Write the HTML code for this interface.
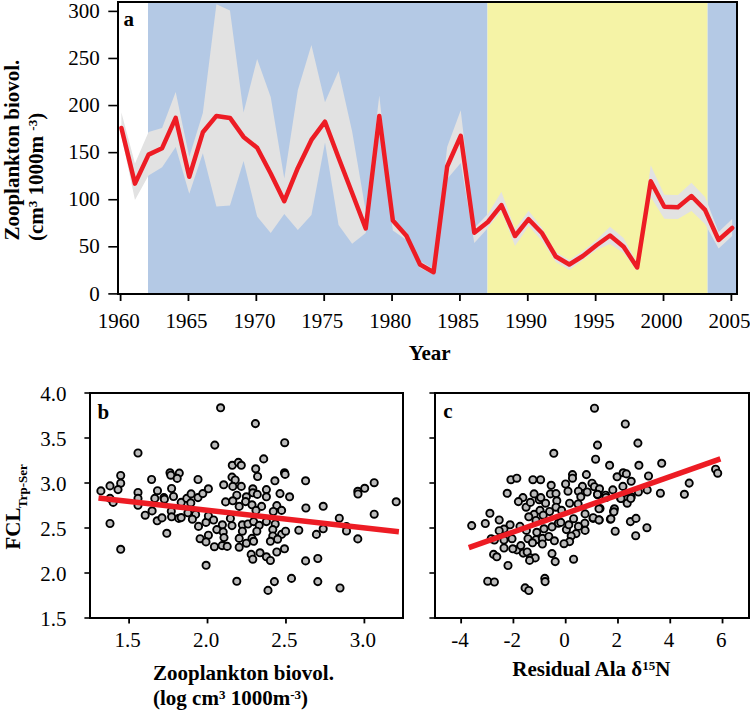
<!DOCTYPE html><html><head><meta charset="utf-8"><style>html,body{margin:0;padding:0;background:#fff;width:750px;height:712px;overflow:hidden}svg{display:block}text{font-family:"Liberation Serif",serif}.t{font-size:21px}.b{font-weight:bold;font-size:21px}</style></head><body>
<svg width="750" height="712" viewBox="0 0 750 712">
<rect x="118" y="2" width="30" height="292" fill="#fff"/>
<rect x="148" y="2" width="339.5" height="292" fill="#b4c9e5"/>
<rect x="487.5" y="2" width="220.10000000000002" height="292" fill="#f5f3a6"/>
<rect x="707.6" y="2" width="29.399999999999977" height="292" fill="#b4c9e5"/>
<polygon points="121.4,112.4 134.97,163.4 148.55,132 162.12,128 175.69,92.1 189.27,157 202.84,112.9 216.41,4.2 229.98,10.4 243.56,112.6 257.13,58.9 270.7,97 284.28,178.6 297.85,90.1 311.42,45 325,102.3 338.57,71 352.14,131.5 365.71,211 379.29,95.4 392.86,218.4 406.43,232 420.01,261 433.58,269 447.15,147 460.73,110.2 474.3,228 487.87,214 501.44,191.7 515.02,229 528.59,210.8 542.16,228 555.74,252 569.31,260 582.88,251 596.46,240 610.03,226.7 623.6,238 637.17,263 650.75,165.3 664.32,194.7 677.89,195 691.47,182.7 705.04,197 718.61,232 732.18,219 732.18,236 718.61,248.6 705.04,224 691.47,211 677.89,219 664.32,218.7 650.75,197 637.17,271 623.6,253 610.03,244 596.46,250 582.88,260 569.31,270 555.74,262 542.16,241 528.59,226 515.02,246 501.44,211 487.87,228 474.3,243 460.73,163 447.15,179 433.58,274.5 420.01,268 406.43,240 392.86,230.5 379.29,124 365.71,233 352.14,243.7 338.57,225 325,142.6 311.42,215 297.85,230 284.28,214 270.7,233 257.13,216.5 243.56,160.9 229.98,205.6 216.41,206.4 202.84,153.3 189.27,193.8 175.69,147 162.12,167.2 148.55,175.5 134.97,200 121.4,136" fill="#e2e2e2"/>
<polyline points="121.4,128 134.97,183.6 148.55,154.6 162.12,148.2 175.69,117.9 189.27,176.8 202.84,132.3 216.41,115.9 229.98,117.9 243.56,136.9 257.13,147.7 270.7,173.5 284.28,201.2 297.85,167.9 311.42,139.9 325,121.7 338.57,157.7 352.14,193 365.71,228.5 379.29,116 392.86,220.5 406.43,235.7 420.01,264.5 433.58,272.2 447.15,166.5 460.73,135.8 474.3,232.7 487.87,222 501.44,205.1 515.02,236 528.59,219.2 542.16,233.3 555.74,256.5 569.31,264.5 582.88,256 596.46,245.3 610.03,235.5 623.6,246.7 637.17,267.5 650.75,181.3 664.32,206.7 677.89,207.2 691.47,196 705.04,209.9 718.61,240 732.18,228" fill="none" stroke="#ed1c24" stroke-width="4.5" stroke-linejoin="round" stroke-linecap="round"/>
<rect x="118" y="2" width="619" height="292" fill="none" stroke="#000" stroke-width="2"/>
<line x1="108.3" y1="293.9" x2="118" y2="293.9" stroke="#000" stroke-width="1.6"/>
<text class="t" x="99.7" y="300.5" text-anchor="end">0</text>
<line x1="108.3" y1="246.81" x2="118" y2="246.81" stroke="#000" stroke-width="1.6"/>
<text class="t" x="99.7" y="253.41" text-anchor="end">50</text>
<line x1="108.3" y1="199.73" x2="118" y2="199.73" stroke="#000" stroke-width="1.6"/>
<text class="t" x="99.7" y="206.33" text-anchor="end">100</text>
<line x1="108.3" y1="152.64" x2="118" y2="152.64" stroke="#000" stroke-width="1.6"/>
<text class="t" x="99.7" y="159.24" text-anchor="end">150</text>
<line x1="108.3" y1="105.56" x2="118" y2="105.56" stroke="#000" stroke-width="1.6"/>
<text class="t" x="99.7" y="112.16" text-anchor="end">200</text>
<line x1="108.3" y1="58.47" x2="118" y2="58.47" stroke="#000" stroke-width="1.6"/>
<text class="t" x="99.7" y="65.07" text-anchor="end">250</text>
<line x1="108.3" y1="11.39" x2="118" y2="11.39" stroke="#000" stroke-width="1.6"/>
<text class="t" x="99.7" y="17.99" text-anchor="end">300</text>
<line x1="120.6" y1="294" x2="120.6" y2="301" stroke="#000" stroke-width="1.8"/>
<text class="t" x="118.7" y="328.1" text-anchor="middle">1960</text>
<line x1="188.47" y1="294" x2="188.47" y2="301" stroke="#000" stroke-width="1.8"/>
<text class="t" x="186.56" y="328.1" text-anchor="middle">1965</text>
<line x1="256.33" y1="294" x2="256.33" y2="301" stroke="#000" stroke-width="1.8"/>
<text class="t" x="254.43" y="328.1" text-anchor="middle">1970</text>
<line x1="324.19" y1="294" x2="324.19" y2="301" stroke="#000" stroke-width="1.8"/>
<text class="t" x="322.3" y="328.1" text-anchor="middle">1975</text>
<line x1="392.06" y1="294" x2="392.06" y2="301" stroke="#000" stroke-width="1.8"/>
<text class="t" x="390.16" y="328.1" text-anchor="middle">1980</text>
<line x1="459.92" y1="294" x2="459.92" y2="301" stroke="#000" stroke-width="1.8"/>
<text class="t" x="458.02" y="328.1" text-anchor="middle">1985</text>
<line x1="527.79" y1="294" x2="527.79" y2="301" stroke="#000" stroke-width="1.8"/>
<text class="t" x="525.89" y="328.1" text-anchor="middle">1990</text>
<line x1="595.65" y1="294" x2="595.65" y2="301" stroke="#000" stroke-width="1.8"/>
<text class="t" x="593.75" y="328.1" text-anchor="middle">1995</text>
<line x1="663.52" y1="294" x2="663.52" y2="301" stroke="#000" stroke-width="1.8"/>
<text class="t" x="661.62" y="328.1" text-anchor="middle">2000</text>
<line x1="731.38" y1="294" x2="731.38" y2="301" stroke="#000" stroke-width="1.8"/>
<text class="t" x="729.49" y="328.1" text-anchor="middle">2005</text>
<text class="b" x="429.7" y="360.2" text-anchor="middle">Year</text>
<text class="b" x="123.6" y="26">a</text>
<text class="b" transform="translate(18.5,240.6) rotate(-90)">Zooplankton biovol.</text>
<text class="b" transform="translate(43.2,241) rotate(-90)">(cm<tspan font-size="13" dy="-6">3</tspan><tspan dy="6"> 1000m </tspan><tspan font-size="13" dy="-6">-3</tspan><tspan dy="6">)</tspan></text>
<circle cx="220.6" cy="407.8" r="3.6" fill="#bcbcbc" stroke="#000" stroke-width="1.9"/>
<circle cx="214.8" cy="445.1" r="3.6" fill="#bcbcbc" stroke="#000" stroke-width="1.9"/>
<circle cx="138" cy="453" r="3.6" fill="#bcbcbc" stroke="#000" stroke-width="1.9"/>
<circle cx="255.4" cy="423.6" r="3.6" fill="#bcbcbc" stroke="#000" stroke-width="1.9"/>
<circle cx="284.7" cy="442.7" r="3.6" fill="#bcbcbc" stroke="#000" stroke-width="1.9"/>
<circle cx="120.7" cy="475.5" r="3.6" fill="#bcbcbc" stroke="#000" stroke-width="1.9"/>
<circle cx="120.7" cy="483.2" r="3.6" fill="#bcbcbc" stroke="#000" stroke-width="1.9"/>
<circle cx="110" cy="485.9" r="3.6" fill="#bcbcbc" stroke="#000" stroke-width="1.9"/>
<circle cx="118" cy="489.6" r="3.6" fill="#bcbcbc" stroke="#000" stroke-width="1.9"/>
<circle cx="100.9" cy="490.9" r="3.6" fill="#bcbcbc" stroke="#000" stroke-width="1.9"/>
<circle cx="110" cy="498.4" r="3.6" fill="#bcbcbc" stroke="#000" stroke-width="1.9"/>
<circle cx="113.2" cy="502.4" r="3.6" fill="#bcbcbc" stroke="#000" stroke-width="1.9"/>
<circle cx="110" cy="523.5" r="3.6" fill="#bcbcbc" stroke="#000" stroke-width="1.9"/>
<circle cx="120.7" cy="549.3" r="3.6" fill="#bcbcbc" stroke="#000" stroke-width="1.9"/>
<circle cx="151.6" cy="479.5" r="3.6" fill="#bcbcbc" stroke="#000" stroke-width="1.9"/>
<circle cx="138" cy="492.5" r="3.6" fill="#bcbcbc" stroke="#000" stroke-width="1.9"/>
<circle cx="138" cy="498.4" r="3.6" fill="#bcbcbc" stroke="#000" stroke-width="1.9"/>
<circle cx="138" cy="505.3" r="3.6" fill="#bcbcbc" stroke="#000" stroke-width="1.9"/>
<circle cx="145.2" cy="515.2" r="3.6" fill="#bcbcbc" stroke="#000" stroke-width="1.9"/>
<circle cx="152.1" cy="510.9" r="3.6" fill="#bcbcbc" stroke="#000" stroke-width="1.9"/>
<circle cx="157.2" cy="520.8" r="3.6" fill="#bcbcbc" stroke="#000" stroke-width="1.9"/>
<circle cx="162" cy="517.9" r="3.6" fill="#bcbcbc" stroke="#000" stroke-width="1.9"/>
<circle cx="154.8" cy="498.4" r="3.6" fill="#bcbcbc" stroke="#000" stroke-width="1.9"/>
<circle cx="157.5" cy="490.7" r="3.6" fill="#bcbcbc" stroke="#000" stroke-width="1.9"/>
<circle cx="163.9" cy="497.6" r="3.6" fill="#bcbcbc" stroke="#000" stroke-width="1.9"/>
<circle cx="164.4" cy="499.2" r="3.6" fill="#bcbcbc" stroke="#000" stroke-width="1.9"/>
<circle cx="170" cy="472.8" r="3.6" fill="#bcbcbc" stroke="#000" stroke-width="1.9"/>
<circle cx="170.8" cy="475.2" r="3.6" fill="#bcbcbc" stroke="#000" stroke-width="1.9"/>
<circle cx="179.3" cy="473.1" r="3.6" fill="#bcbcbc" stroke="#000" stroke-width="1.9"/>
<circle cx="177.2" cy="478.4" r="3.6" fill="#bcbcbc" stroke="#000" stroke-width="1.9"/>
<circle cx="171.6" cy="488.5" r="3.6" fill="#bcbcbc" stroke="#000" stroke-width="1.9"/>
<circle cx="173.5" cy="496.5" r="3.6" fill="#bcbcbc" stroke="#000" stroke-width="1.9"/>
<circle cx="171.3" cy="511.2" r="3.6" fill="#bcbcbc" stroke="#000" stroke-width="1.9"/>
<circle cx="171.6" cy="516.8" r="3.6" fill="#bcbcbc" stroke="#000" stroke-width="1.9"/>
<circle cx="178.8" cy="518.4" r="3.6" fill="#bcbcbc" stroke="#000" stroke-width="1.9"/>
<circle cx="181.2" cy="517.6" r="3.6" fill="#bcbcbc" stroke="#000" stroke-width="1.9"/>
<circle cx="166.8" cy="533.3" r="3.6" fill="#bcbcbc" stroke="#000" stroke-width="1.9"/>
<circle cx="181.2" cy="502.4" r="3.6" fill="#bcbcbc" stroke="#000" stroke-width="1.9"/>
<circle cx="186.8" cy="498.4" r="3.6" fill="#bcbcbc" stroke="#000" stroke-width="1.9"/>
<circle cx="191.1" cy="493.9" r="3.6" fill="#bcbcbc" stroke="#000" stroke-width="1.9"/>
<circle cx="190.8" cy="502.9" r="3.6" fill="#bcbcbc" stroke="#000" stroke-width="1.9"/>
<circle cx="187.9" cy="512.8" r="3.6" fill="#bcbcbc" stroke="#000" stroke-width="1.9"/>
<circle cx="195.6" cy="514.4" r="3.6" fill="#bcbcbc" stroke="#000" stroke-width="1.9"/>
<circle cx="192.4" cy="519.2" r="3.6" fill="#bcbcbc" stroke="#000" stroke-width="1.9"/>
<circle cx="198" cy="479.5" r="3.6" fill="#bcbcbc" stroke="#000" stroke-width="1.9"/>
<circle cx="198" cy="497.6" r="3.6" fill="#bcbcbc" stroke="#000" stroke-width="1.9"/>
<circle cx="202.8" cy="493.6" r="3.6" fill="#bcbcbc" stroke="#000" stroke-width="1.9"/>
<circle cx="208.4" cy="488.8" r="3.6" fill="#bcbcbc" stroke="#000" stroke-width="1.9"/>
<circle cx="198.5" cy="526.4" r="3.6" fill="#bcbcbc" stroke="#000" stroke-width="1.9"/>
<circle cx="206" cy="522.4" r="3.6" fill="#bcbcbc" stroke="#000" stroke-width="1.9"/>
<circle cx="208.4" cy="516" r="3.6" fill="#bcbcbc" stroke="#000" stroke-width="1.9"/>
<circle cx="208.4" cy="535.2" r="3.6" fill="#bcbcbc" stroke="#000" stroke-width="1.9"/>
<circle cx="200.1" cy="538.7" r="3.6" fill="#bcbcbc" stroke="#000" stroke-width="1.9"/>
<circle cx="206" cy="541.9" r="3.6" fill="#bcbcbc" stroke="#000" stroke-width="1.9"/>
<circle cx="263.7" cy="458.9" r="3.6" fill="#bcbcbc" stroke="#000" stroke-width="1.9"/>
<circle cx="232.3" cy="465.3" r="3.6" fill="#bcbcbc" stroke="#000" stroke-width="1.9"/>
<circle cx="238.4" cy="462.4" r="3.6" fill="#bcbcbc" stroke="#000" stroke-width="1.9"/>
<circle cx="241.3" cy="465.3" r="3.6" fill="#bcbcbc" stroke="#000" stroke-width="1.9"/>
<circle cx="255.7" cy="468.8" r="3.6" fill="#bcbcbc" stroke="#000" stroke-width="1.9"/>
<circle cx="257.6" cy="476.5" r="3.6" fill="#bcbcbc" stroke="#000" stroke-width="1.9"/>
<circle cx="284.5" cy="472.8" r="3.6" fill="#bcbcbc" stroke="#000" stroke-width="1.9"/>
<circle cx="285.1" cy="474.4" r="3.6" fill="#bcbcbc" stroke="#000" stroke-width="1.9"/>
<circle cx="305.6" cy="480.8" r="3.6" fill="#bcbcbc" stroke="#000" stroke-width="1.9"/>
<circle cx="274.9" cy="480.8" r="3.6" fill="#bcbcbc" stroke="#000" stroke-width="1.9"/>
<circle cx="232" cy="477.1" r="3.6" fill="#bcbcbc" stroke="#000" stroke-width="1.9"/>
<circle cx="235.2" cy="480" r="3.6" fill="#bcbcbc" stroke="#000" stroke-width="1.9"/>
<circle cx="223.7" cy="484.8" r="3.6" fill="#bcbcbc" stroke="#000" stroke-width="1.9"/>
<circle cx="232.8" cy="486.4" r="3.6" fill="#bcbcbc" stroke="#000" stroke-width="1.9"/>
<circle cx="241.3" cy="486.4" r="3.6" fill="#bcbcbc" stroke="#000" stroke-width="1.9"/>
<circle cx="252.8" cy="488.8" r="3.6" fill="#bcbcbc" stroke="#000" stroke-width="1.9"/>
<circle cx="252.8" cy="492.8" r="3.6" fill="#bcbcbc" stroke="#000" stroke-width="1.9"/>
<circle cx="257.3" cy="494.4" r="3.6" fill="#bcbcbc" stroke="#000" stroke-width="1.9"/>
<circle cx="266.4" cy="489.6" r="3.6" fill="#bcbcbc" stroke="#000" stroke-width="1.9"/>
<circle cx="266.4" cy="496.8" r="3.6" fill="#bcbcbc" stroke="#000" stroke-width="1.9"/>
<circle cx="280" cy="493.6" r="3.6" fill="#bcbcbc" stroke="#000" stroke-width="1.9"/>
<circle cx="289.6" cy="496.8" r="3.6" fill="#bcbcbc" stroke="#000" stroke-width="1.9"/>
<circle cx="236.8" cy="495.2" r="3.6" fill="#bcbcbc" stroke="#000" stroke-width="1.9"/>
<circle cx="246.4" cy="496.8" r="3.6" fill="#bcbcbc" stroke="#000" stroke-width="1.9"/>
<circle cx="225.6" cy="501.9" r="3.6" fill="#bcbcbc" stroke="#000" stroke-width="1.9"/>
<circle cx="232.8" cy="500.8" r="3.6" fill="#bcbcbc" stroke="#000" stroke-width="1.9"/>
<circle cx="239.2" cy="506.4" r="3.6" fill="#bcbcbc" stroke="#000" stroke-width="1.9"/>
<circle cx="245.6" cy="501.6" r="3.6" fill="#bcbcbc" stroke="#000" stroke-width="1.9"/>
<circle cx="252" cy="504.8" r="3.6" fill="#bcbcbc" stroke="#000" stroke-width="1.9"/>
<circle cx="261.6" cy="506.4" r="3.6" fill="#bcbcbc" stroke="#000" stroke-width="1.9"/>
<circle cx="276.8" cy="505.6" r="3.6" fill="#bcbcbc" stroke="#000" stroke-width="1.9"/>
<circle cx="281.6" cy="510.4" r="3.6" fill="#bcbcbc" stroke="#000" stroke-width="1.9"/>
<circle cx="273.3" cy="511.5" r="3.6" fill="#bcbcbc" stroke="#000" stroke-width="1.9"/>
<circle cx="256" cy="510.4" r="3.6" fill="#bcbcbc" stroke="#000" stroke-width="1.9"/>
<circle cx="305.9" cy="508" r="3.6" fill="#bcbcbc" stroke="#000" stroke-width="1.9"/>
<circle cx="323.2" cy="506.3" r="3.6" fill="#bcbcbc" stroke="#000" stroke-width="1.9"/>
<circle cx="213.6" cy="520" r="3.6" fill="#bcbcbc" stroke="#000" stroke-width="1.9"/>
<circle cx="222.4" cy="524.8" r="3.6" fill="#bcbcbc" stroke="#000" stroke-width="1.9"/>
<circle cx="216.8" cy="529.6" r="3.6" fill="#bcbcbc" stroke="#000" stroke-width="1.9"/>
<circle cx="223.2" cy="532" r="3.6" fill="#bcbcbc" stroke="#000" stroke-width="1.9"/>
<circle cx="224" cy="537.6" r="3.6" fill="#bcbcbc" stroke="#000" stroke-width="1.9"/>
<circle cx="214.4" cy="546.7" r="3.6" fill="#bcbcbc" stroke="#000" stroke-width="1.9"/>
<circle cx="222.1" cy="545.6" r="3.6" fill="#bcbcbc" stroke="#000" stroke-width="1.9"/>
<circle cx="227.2" cy="546.4" r="3.6" fill="#bcbcbc" stroke="#000" stroke-width="1.9"/>
<circle cx="232" cy="525.6" r="3.6" fill="#bcbcbc" stroke="#000" stroke-width="1.9"/>
<circle cx="230.4" cy="518.4" r="3.6" fill="#bcbcbc" stroke="#000" stroke-width="1.9"/>
<circle cx="242.4" cy="524.8" r="3.6" fill="#bcbcbc" stroke="#000" stroke-width="1.9"/>
<circle cx="242.4" cy="531.2" r="3.6" fill="#bcbcbc" stroke="#000" stroke-width="1.9"/>
<circle cx="248" cy="524" r="3.6" fill="#bcbcbc" stroke="#000" stroke-width="1.9"/>
<circle cx="253.6" cy="521.6" r="3.6" fill="#bcbcbc" stroke="#000" stroke-width="1.9"/>
<circle cx="259.2" cy="525.3" r="3.6" fill="#bcbcbc" stroke="#000" stroke-width="1.9"/>
<circle cx="256.8" cy="531.2" r="3.6" fill="#bcbcbc" stroke="#000" stroke-width="1.9"/>
<circle cx="266.4" cy="521.6" r="3.6" fill="#bcbcbc" stroke="#000" stroke-width="1.9"/>
<circle cx="275.2" cy="524" r="3.6" fill="#bcbcbc" stroke="#000" stroke-width="1.9"/>
<circle cx="272.8" cy="529.6" r="3.6" fill="#bcbcbc" stroke="#000" stroke-width="1.9"/>
<circle cx="272.8" cy="536" r="3.6" fill="#bcbcbc" stroke="#000" stroke-width="1.9"/>
<circle cx="281.6" cy="534.4" r="3.6" fill="#bcbcbc" stroke="#000" stroke-width="1.9"/>
<circle cx="285.6" cy="531.2" r="3.6" fill="#bcbcbc" stroke="#000" stroke-width="1.9"/>
<circle cx="277.6" cy="539.2" r="3.6" fill="#bcbcbc" stroke="#000" stroke-width="1.9"/>
<circle cx="270.4" cy="541.3" r="3.6" fill="#bcbcbc" stroke="#000" stroke-width="1.9"/>
<circle cx="276.8" cy="552" r="3.6" fill="#bcbcbc" stroke="#000" stroke-width="1.9"/>
<circle cx="284.5" cy="548.8" r="3.6" fill="#bcbcbc" stroke="#000" stroke-width="1.9"/>
<circle cx="239.2" cy="538.4" r="3.6" fill="#bcbcbc" stroke="#000" stroke-width="1.9"/>
<circle cx="239.2" cy="547.2" r="3.6" fill="#bcbcbc" stroke="#000" stroke-width="1.9"/>
<circle cx="246.4" cy="543.2" r="3.6" fill="#bcbcbc" stroke="#000" stroke-width="1.9"/>
<circle cx="252" cy="538.4" r="3.6" fill="#bcbcbc" stroke="#000" stroke-width="1.9"/>
<circle cx="253.6" cy="541.3" r="3.6" fill="#bcbcbc" stroke="#000" stroke-width="1.9"/>
<circle cx="251.2" cy="554.4" r="3.6" fill="#bcbcbc" stroke="#000" stroke-width="1.9"/>
<circle cx="260" cy="552.8" r="3.6" fill="#bcbcbc" stroke="#000" stroke-width="1.9"/>
<circle cx="252.8" cy="559.2" r="3.6" fill="#bcbcbc" stroke="#000" stroke-width="1.9"/>
<circle cx="266.4" cy="556.8" r="3.6" fill="#bcbcbc" stroke="#000" stroke-width="1.9"/>
<circle cx="270.4" cy="560.5" r="3.6" fill="#bcbcbc" stroke="#000" stroke-width="1.9"/>
<circle cx="298.8" cy="530.2" r="3.6" fill="#bcbcbc" stroke="#000" stroke-width="1.9"/>
<circle cx="316.4" cy="534.4" r="3.6" fill="#bcbcbc" stroke="#000" stroke-width="1.9"/>
<circle cx="305.6" cy="560.9" r="3.6" fill="#bcbcbc" stroke="#000" stroke-width="1.9"/>
<circle cx="317.8" cy="558.5" r="3.6" fill="#bcbcbc" stroke="#000" stroke-width="1.9"/>
<circle cx="206.1" cy="565.3" r="3.6" fill="#bcbcbc" stroke="#000" stroke-width="1.9"/>
<circle cx="236.8" cy="581.3" r="3.6" fill="#bcbcbc" stroke="#000" stroke-width="1.9"/>
<circle cx="274.4" cy="581.6" r="3.6" fill="#bcbcbc" stroke="#000" stroke-width="1.9"/>
<circle cx="268" cy="590.4" r="3.6" fill="#bcbcbc" stroke="#000" stroke-width="1.9"/>
<circle cx="291.5" cy="578.4" r="3.6" fill="#bcbcbc" stroke="#000" stroke-width="1.9"/>
<circle cx="317.8" cy="581.6" r="3.6" fill="#bcbcbc" stroke="#000" stroke-width="1.9"/>
<circle cx="323.2" cy="528.8" r="3.6" fill="#bcbcbc" stroke="#000" stroke-width="1.9"/>
<circle cx="339.3" cy="518.2" r="3.6" fill="#bcbcbc" stroke="#000" stroke-width="1.9"/>
<circle cx="346.5" cy="526.6" r="3.6" fill="#bcbcbc" stroke="#000" stroke-width="1.9"/>
<circle cx="346.5" cy="531" r="3.6" fill="#bcbcbc" stroke="#000" stroke-width="1.9"/>
<circle cx="357.8" cy="538.9" r="3.6" fill="#bcbcbc" stroke="#000" stroke-width="1.9"/>
<circle cx="357.8" cy="491.3" r="3.6" fill="#bcbcbc" stroke="#000" stroke-width="1.9"/>
<circle cx="358" cy="494" r="3.6" fill="#bcbcbc" stroke="#000" stroke-width="1.9"/>
<circle cx="364.7" cy="488.3" r="3.6" fill="#bcbcbc" stroke="#000" stroke-width="1.9"/>
<circle cx="374.2" cy="482.7" r="3.6" fill="#bcbcbc" stroke="#000" stroke-width="1.9"/>
<circle cx="374.2" cy="514.2" r="3.6" fill="#bcbcbc" stroke="#000" stroke-width="1.9"/>
<circle cx="396.2" cy="501.8" r="3.6" fill="#bcbcbc" stroke="#000" stroke-width="1.9"/>
<circle cx="340" cy="588" r="3.6" fill="#bcbcbc" stroke="#000" stroke-width="1.9"/>
<line x1="98.5" y1="498.1" x2="398.9" y2="531.7" stroke="#ed1c24" stroke-width="5.5"/>
<rect x="90" y="393" width="313" height="225" fill="none" stroke="#000" stroke-width="2"/>
<line x1="84.4" y1="618" x2="90" y2="618" stroke="#000" stroke-width="1.6"/>
<text class="t" x="66.5" y="625.6" text-anchor="end">1.5</text>
<line x1="84.4" y1="573" x2="90" y2="573" stroke="#000" stroke-width="1.6"/>
<text class="t" x="66.5" y="580.6" text-anchor="end">2.0</text>
<line x1="84.4" y1="528" x2="90" y2="528" stroke="#000" stroke-width="1.6"/>
<text class="t" x="66.5" y="535.6" text-anchor="end">2.5</text>
<line x1="84.4" y1="483" x2="90" y2="483" stroke="#000" stroke-width="1.6"/>
<text class="t" x="66.5" y="490.6" text-anchor="end">3.0</text>
<line x1="84.4" y1="438" x2="90" y2="438" stroke="#000" stroke-width="1.6"/>
<text class="t" x="66.5" y="445.6" text-anchor="end">3.5</text>
<line x1="84.4" y1="393" x2="90" y2="393" stroke="#000" stroke-width="1.6"/>
<text class="t" x="66.5" y="400.6" text-anchor="end">4.0</text>
<circle cx="594.5" cy="408.2" r="3.6" fill="#bcbcbc" stroke="#000" stroke-width="1.9"/>
<circle cx="553.8" cy="453.3" r="3.6" fill="#bcbcbc" stroke="#000" stroke-width="1.9"/>
<circle cx="597.5" cy="445.1" r="3.6" fill="#bcbcbc" stroke="#000" stroke-width="1.9"/>
<circle cx="595.6" cy="459.2" r="3.6" fill="#bcbcbc" stroke="#000" stroke-width="1.9"/>
<circle cx="510.9" cy="479.7" r="3.6" fill="#bcbcbc" stroke="#000" stroke-width="1.9"/>
<circle cx="516.8" cy="478.2" r="3.6" fill="#bcbcbc" stroke="#000" stroke-width="1.9"/>
<circle cx="532.9" cy="479.7" r="3.6" fill="#bcbcbc" stroke="#000" stroke-width="1.9"/>
<circle cx="540.6" cy="479.7" r="3.6" fill="#bcbcbc" stroke="#000" stroke-width="1.9"/>
<circle cx="572.5" cy="474.6" r="3.6" fill="#bcbcbc" stroke="#000" stroke-width="1.9"/>
<circle cx="572.5" cy="478.2" r="3.6" fill="#bcbcbc" stroke="#000" stroke-width="1.9"/>
<circle cx="586.4" cy="474.6" r="3.6" fill="#bcbcbc" stroke="#000" stroke-width="1.9"/>
<circle cx="625.3" cy="424" r="3.6" fill="#bcbcbc" stroke="#000" stroke-width="1.9"/>
<circle cx="637.9" cy="443.1" r="3.6" fill="#bcbcbc" stroke="#000" stroke-width="1.9"/>
<circle cx="551.2" cy="485.3" r="3.6" fill="#bcbcbc" stroke="#000" stroke-width="1.9"/>
<circle cx="507.2" cy="493.3" r="3.6" fill="#bcbcbc" stroke="#000" stroke-width="1.9"/>
<circle cx="522.9" cy="497.6" r="3.6" fill="#bcbcbc" stroke="#000" stroke-width="1.9"/>
<circle cx="518.4" cy="501.6" r="3.6" fill="#bcbcbc" stroke="#000" stroke-width="1.9"/>
<circle cx="526.1" cy="507.2" r="3.6" fill="#bcbcbc" stroke="#000" stroke-width="1.9"/>
<circle cx="530.4" cy="502.4" r="3.6" fill="#bcbcbc" stroke="#000" stroke-width="1.9"/>
<circle cx="534.1" cy="493.9" r="3.6" fill="#bcbcbc" stroke="#000" stroke-width="1.9"/>
<circle cx="539.2" cy="499.7" r="3.6" fill="#bcbcbc" stroke="#000" stroke-width="1.9"/>
<circle cx="545.6" cy="503.2" r="3.6" fill="#bcbcbc" stroke="#000" stroke-width="1.9"/>
<circle cx="550.4" cy="493.9" r="3.6" fill="#bcbcbc" stroke="#000" stroke-width="1.9"/>
<circle cx="556" cy="493.6" r="3.6" fill="#bcbcbc" stroke="#000" stroke-width="1.9"/>
<circle cx="556.8" cy="500.8" r="3.6" fill="#bcbcbc" stroke="#000" stroke-width="1.9"/>
<circle cx="556" cy="507.2" r="3.6" fill="#bcbcbc" stroke="#000" stroke-width="1.9"/>
<circle cx="549.6" cy="511.5" r="3.6" fill="#bcbcbc" stroke="#000" stroke-width="1.9"/>
<circle cx="534.1" cy="514.4" r="3.6" fill="#bcbcbc" stroke="#000" stroke-width="1.9"/>
<circle cx="528.8" cy="516.8" r="3.6" fill="#bcbcbc" stroke="#000" stroke-width="1.9"/>
<circle cx="489.9" cy="513.3" r="3.6" fill="#bcbcbc" stroke="#000" stroke-width="1.9"/>
<circle cx="499.2" cy="520" r="3.6" fill="#bcbcbc" stroke="#000" stroke-width="1.9"/>
<circle cx="485.3" cy="523.5" r="3.6" fill="#bcbcbc" stroke="#000" stroke-width="1.9"/>
<circle cx="471.7" cy="525.6" r="3.6" fill="#bcbcbc" stroke="#000" stroke-width="1.9"/>
<circle cx="510.1" cy="524.8" r="3.6" fill="#bcbcbc" stroke="#000" stroke-width="1.9"/>
<circle cx="504" cy="529.1" r="3.6" fill="#bcbcbc" stroke="#000" stroke-width="1.9"/>
<circle cx="499.2" cy="530.7" r="3.6" fill="#bcbcbc" stroke="#000" stroke-width="1.9"/>
<circle cx="520" cy="526.4" r="3.6" fill="#bcbcbc" stroke="#000" stroke-width="1.9"/>
<circle cx="526.4" cy="530.4" r="3.6" fill="#bcbcbc" stroke="#000" stroke-width="1.9"/>
<circle cx="536" cy="520.5" r="3.6" fill="#bcbcbc" stroke="#000" stroke-width="1.9"/>
<circle cx="544" cy="528.8" r="3.6" fill="#bcbcbc" stroke="#000" stroke-width="1.9"/>
<circle cx="552" cy="526.9" r="3.6" fill="#bcbcbc" stroke="#000" stroke-width="1.9"/>
<circle cx="558.4" cy="523.2" r="3.6" fill="#bcbcbc" stroke="#000" stroke-width="1.9"/>
<circle cx="536.8" cy="532.3" r="3.6" fill="#bcbcbc" stroke="#000" stroke-width="1.9"/>
<circle cx="512" cy="538.7" r="3.6" fill="#bcbcbc" stroke="#000" stroke-width="1.9"/>
<circle cx="504" cy="540" r="3.6" fill="#bcbcbc" stroke="#000" stroke-width="1.9"/>
<circle cx="491.2" cy="538.7" r="3.6" fill="#bcbcbc" stroke="#000" stroke-width="1.9"/>
<circle cx="494.4" cy="540" r="3.6" fill="#bcbcbc" stroke="#000" stroke-width="1.9"/>
<circle cx="528" cy="538.7" r="3.6" fill="#bcbcbc" stroke="#000" stroke-width="1.9"/>
<circle cx="536" cy="539.7" r="3.6" fill="#bcbcbc" stroke="#000" stroke-width="1.9"/>
<circle cx="542.4" cy="538.4" r="3.6" fill="#bcbcbc" stroke="#000" stroke-width="1.9"/>
<circle cx="548.8" cy="536.5" r="3.6" fill="#bcbcbc" stroke="#000" stroke-width="1.9"/>
<circle cx="554.4" cy="540.8" r="3.6" fill="#bcbcbc" stroke="#000" stroke-width="1.9"/>
<circle cx="542.4" cy="544" r="3.6" fill="#bcbcbc" stroke="#000" stroke-width="1.9"/>
<circle cx="504" cy="548" r="3.6" fill="#bcbcbc" stroke="#000" stroke-width="1.9"/>
<circle cx="516.8" cy="549.9" r="3.6" fill="#bcbcbc" stroke="#000" stroke-width="1.9"/>
<circle cx="512.8" cy="548.8" r="3.6" fill="#bcbcbc" stroke="#000" stroke-width="1.9"/>
<circle cx="520.8" cy="545.6" r="3.6" fill="#bcbcbc" stroke="#000" stroke-width="1.9"/>
<circle cx="523.2" cy="553.1" r="3.6" fill="#bcbcbc" stroke="#000" stroke-width="1.9"/>
<circle cx="527.2" cy="552" r="3.6" fill="#bcbcbc" stroke="#000" stroke-width="1.9"/>
<circle cx="493.6" cy="554.4" r="3.6" fill="#bcbcbc" stroke="#000" stroke-width="1.9"/>
<circle cx="496.8" cy="556.8" r="3.6" fill="#bcbcbc" stroke="#000" stroke-width="1.9"/>
<circle cx="530.4" cy="557.9" r="3.6" fill="#bcbcbc" stroke="#000" stroke-width="1.9"/>
<circle cx="535.2" cy="557.9" r="3.6" fill="#bcbcbc" stroke="#000" stroke-width="1.9"/>
<circle cx="552" cy="553.6" r="3.6" fill="#bcbcbc" stroke="#000" stroke-width="1.9"/>
<circle cx="609.6" cy="465.3" r="3.6" fill="#bcbcbc" stroke="#000" stroke-width="1.9"/>
<circle cx="638.9" cy="465.3" r="3.6" fill="#bcbcbc" stroke="#000" stroke-width="1.9"/>
<circle cx="661.7" cy="463.3" r="3.6" fill="#bcbcbc" stroke="#000" stroke-width="1.9"/>
<circle cx="565.6" cy="484" r="3.6" fill="#bcbcbc" stroke="#000" stroke-width="1.9"/>
<circle cx="568" cy="491.2" r="3.6" fill="#bcbcbc" stroke="#000" stroke-width="1.9"/>
<circle cx="582.4" cy="486.4" r="3.6" fill="#bcbcbc" stroke="#000" stroke-width="1.9"/>
<circle cx="578.4" cy="491.2" r="3.6" fill="#bcbcbc" stroke="#000" stroke-width="1.9"/>
<circle cx="587.2" cy="492" r="3.6" fill="#bcbcbc" stroke="#000" stroke-width="1.9"/>
<circle cx="592" cy="483.2" r="3.6" fill="#bcbcbc" stroke="#000" stroke-width="1.9"/>
<circle cx="594.4" cy="486.7" r="3.6" fill="#bcbcbc" stroke="#000" stroke-width="1.9"/>
<circle cx="599.5" cy="488.8" r="3.6" fill="#bcbcbc" stroke="#000" stroke-width="1.9"/>
<circle cx="597.6" cy="494.7" r="3.6" fill="#bcbcbc" stroke="#000" stroke-width="1.9"/>
<circle cx="580.8" cy="496.8" r="3.6" fill="#bcbcbc" stroke="#000" stroke-width="1.9"/>
<circle cx="612.8" cy="489.9" r="3.6" fill="#bcbcbc" stroke="#000" stroke-width="1.9"/>
<circle cx="617.1" cy="476.8" r="3.6" fill="#bcbcbc" stroke="#000" stroke-width="1.9"/>
<circle cx="623.2" cy="472.8" r="3.6" fill="#bcbcbc" stroke="#000" stroke-width="1.9"/>
<circle cx="626.4" cy="473.9" r="3.6" fill="#bcbcbc" stroke="#000" stroke-width="1.9"/>
<circle cx="631.2" cy="481.3" r="3.6" fill="#bcbcbc" stroke="#000" stroke-width="1.9"/>
<circle cx="622.9" cy="486.4" r="3.6" fill="#bcbcbc" stroke="#000" stroke-width="1.9"/>
<circle cx="638.4" cy="492" r="3.6" fill="#bcbcbc" stroke="#000" stroke-width="1.9"/>
<circle cx="647.2" cy="489.9" r="3.6" fill="#bcbcbc" stroke="#000" stroke-width="1.9"/>
<circle cx="648.5" cy="476" r="3.6" fill="#bcbcbc" stroke="#000" stroke-width="1.9"/>
<circle cx="660.4" cy="493.2" r="3.6" fill="#bcbcbc" stroke="#000" stroke-width="1.9"/>
<circle cx="620.8" cy="498.4" r="3.6" fill="#bcbcbc" stroke="#000" stroke-width="1.9"/>
<circle cx="627.7" cy="498.4" r="3.6" fill="#bcbcbc" stroke="#000" stroke-width="1.9"/>
<circle cx="627.2" cy="503.2" r="3.6" fill="#bcbcbc" stroke="#000" stroke-width="1.9"/>
<circle cx="631.2" cy="496.8" r="3.6" fill="#bcbcbc" stroke="#000" stroke-width="1.9"/>
<circle cx="605.6" cy="495.2" r="3.6" fill="#bcbcbc" stroke="#000" stroke-width="1.9"/>
<circle cx="569.6" cy="503.2" r="3.6" fill="#bcbcbc" stroke="#000" stroke-width="1.9"/>
<circle cx="578.1" cy="504" r="3.6" fill="#bcbcbc" stroke="#000" stroke-width="1.9"/>
<circle cx="561.6" cy="510.4" r="3.6" fill="#bcbcbc" stroke="#000" stroke-width="1.9"/>
<circle cx="540.8" cy="497.6" r="3.6" fill="#bcbcbc" stroke="#000" stroke-width="1.9"/>
<circle cx="540" cy="510.4" r="3.6" fill="#bcbcbc" stroke="#000" stroke-width="1.9"/>
<circle cx="543.2" cy="515.2" r="3.6" fill="#bcbcbc" stroke="#000" stroke-width="1.9"/>
<circle cx="600" cy="508.5" r="3.6" fill="#bcbcbc" stroke="#000" stroke-width="1.9"/>
<circle cx="613.6" cy="511.2" r="3.6" fill="#bcbcbc" stroke="#000" stroke-width="1.9"/>
<circle cx="614.4" cy="508.8" r="3.6" fill="#bcbcbc" stroke="#000" stroke-width="1.9"/>
<circle cx="610.4" cy="519.2" r="3.6" fill="#bcbcbc" stroke="#000" stroke-width="1.9"/>
<circle cx="585.1" cy="513.9" r="3.6" fill="#bcbcbc" stroke="#000" stroke-width="1.9"/>
<circle cx="593.1" cy="518.4" r="3.6" fill="#bcbcbc" stroke="#000" stroke-width="1.9"/>
<circle cx="599.2" cy="520" r="3.6" fill="#bcbcbc" stroke="#000" stroke-width="1.9"/>
<circle cx="573.6" cy="518.7" r="3.6" fill="#bcbcbc" stroke="#000" stroke-width="1.9"/>
<circle cx="560.8" cy="522.4" r="3.6" fill="#bcbcbc" stroke="#000" stroke-width="1.9"/>
<circle cx="584.8" cy="523.2" r="3.6" fill="#bcbcbc" stroke="#000" stroke-width="1.9"/>
<circle cx="578.4" cy="526.4" r="3.6" fill="#bcbcbc" stroke="#000" stroke-width="1.9"/>
<circle cx="585.1" cy="530.4" r="3.6" fill="#bcbcbc" stroke="#000" stroke-width="1.9"/>
<circle cx="576" cy="533.6" r="3.6" fill="#bcbcbc" stroke="#000" stroke-width="1.9"/>
<circle cx="566.4" cy="529.6" r="3.6" fill="#bcbcbc" stroke="#000" stroke-width="1.9"/>
<circle cx="630.4" cy="521.6" r="3.6" fill="#bcbcbc" stroke="#000" stroke-width="1.9"/>
<circle cx="636" cy="518.4" r="3.6" fill="#bcbcbc" stroke="#000" stroke-width="1.9"/>
<circle cx="646.9" cy="527.7" r="3.6" fill="#bcbcbc" stroke="#000" stroke-width="1.9"/>
<circle cx="615.2" cy="531.2" r="3.6" fill="#bcbcbc" stroke="#000" stroke-width="1.9"/>
<circle cx="635.7" cy="535.7" r="3.6" fill="#bcbcbc" stroke="#000" stroke-width="1.9"/>
<circle cx="568.8" cy="524.8" r="3.6" fill="#bcbcbc" stroke="#000" stroke-width="1.9"/>
<circle cx="571.2" cy="536" r="3.6" fill="#bcbcbc" stroke="#000" stroke-width="1.9"/>
<circle cx="569.6" cy="541.6" r="3.6" fill="#bcbcbc" stroke="#000" stroke-width="1.9"/>
<circle cx="564" cy="543.7" r="3.6" fill="#bcbcbc" stroke="#000" stroke-width="1.9"/>
<circle cx="555.2" cy="561.6" r="3.6" fill="#bcbcbc" stroke="#000" stroke-width="1.9"/>
<circle cx="573.6" cy="559.2" r="3.6" fill="#bcbcbc" stroke="#000" stroke-width="1.9"/>
<circle cx="544.8" cy="578.4" r="3.6" fill="#bcbcbc" stroke="#000" stroke-width="1.9"/>
<circle cx="545.1" cy="581.6" r="3.6" fill="#bcbcbc" stroke="#000" stroke-width="1.9"/>
<circle cx="529.6" cy="560.4" r="3.6" fill="#bcbcbc" stroke="#000" stroke-width="1.9"/>
<circle cx="508" cy="565.5" r="3.6" fill="#bcbcbc" stroke="#000" stroke-width="1.9"/>
<circle cx="487.7" cy="581.2" r="3.6" fill="#bcbcbc" stroke="#000" stroke-width="1.9"/>
<circle cx="494.4" cy="582" r="3.6" fill="#bcbcbc" stroke="#000" stroke-width="1.9"/>
<circle cx="525.1" cy="587.9" r="3.6" fill="#bcbcbc" stroke="#000" stroke-width="1.9"/>
<circle cx="528.8" cy="590.5" r="3.6" fill="#bcbcbc" stroke="#000" stroke-width="1.9"/>
<circle cx="532.5" cy="542.8" r="3.6" fill="#bcbcbc" stroke="#000" stroke-width="1.9"/>
<circle cx="689.2" cy="483.1" r="3.6" fill="#bcbcbc" stroke="#000" stroke-width="1.9"/>
<circle cx="684.4" cy="494.3" r="3.6" fill="#bcbcbc" stroke="#000" stroke-width="1.9"/>
<circle cx="715.6" cy="469.2" r="3.6" fill="#bcbcbc" stroke="#000" stroke-width="1.9"/>
<circle cx="717.7" cy="473.2" r="3.6" fill="#bcbcbc" stroke="#000" stroke-width="1.9"/>
<circle cx="630.8" cy="498.5" r="3.6" fill="#bcbcbc" stroke="#000" stroke-width="1.9"/>
<circle cx="597.5" cy="494.3" r="3.6" fill="#bcbcbc" stroke="#000" stroke-width="1.9"/>
<circle cx="606" cy="497.5" r="3.6" fill="#bcbcbc" stroke="#000" stroke-width="1.9"/>
<circle cx="599" cy="508.8" r="3.6" fill="#bcbcbc" stroke="#000" stroke-width="1.9"/>
<circle cx="593.2" cy="517.7" r="3.6" fill="#bcbcbc" stroke="#000" stroke-width="1.9"/>
<circle cx="599" cy="519.9" r="3.6" fill="#bcbcbc" stroke="#000" stroke-width="1.9"/>
<circle cx="610.9" cy="518.8" r="3.6" fill="#bcbcbc" stroke="#000" stroke-width="1.9"/>
<circle cx="613.9" cy="511.8" r="3.6" fill="#bcbcbc" stroke="#000" stroke-width="1.9"/>
<circle cx="620.9" cy="498.5" r="3.6" fill="#bcbcbc" stroke="#000" stroke-width="1.9"/>
<line x1="468.8" y1="547.7" x2="720.4" y2="458.8" stroke="#ed1c24" stroke-width="5.5"/>
<rect x="435" y="393" width="314" height="225" fill="none" stroke="#000" stroke-width="2"/>
<line x1="429.4" y1="618" x2="435" y2="618" stroke="#000" stroke-width="1.6"/>
<line x1="429.4" y1="573" x2="435" y2="573" stroke="#000" stroke-width="1.6"/>
<line x1="429.4" y1="528" x2="435" y2="528" stroke="#000" stroke-width="1.6"/>
<line x1="429.4" y1="483" x2="435" y2="483" stroke="#000" stroke-width="1.6"/>
<line x1="429.4" y1="438" x2="435" y2="438" stroke="#000" stroke-width="1.6"/>
<line x1="429.4" y1="393" x2="435" y2="393" stroke="#000" stroke-width="1.6"/>
<line x1="129.1" y1="618" x2="129.1" y2="623.4" stroke="#000" stroke-width="1.8"/>
<text class="t" x="127.6" y="647.2" text-anchor="middle">1.5</text>
<line x1="207.53" y1="618" x2="207.53" y2="623.4" stroke="#000" stroke-width="1.8"/>
<text class="t" x="206.03" y="647.2" text-anchor="middle">2.0</text>
<line x1="285.97" y1="618" x2="285.97" y2="623.4" stroke="#000" stroke-width="1.8"/>
<text class="t" x="284.47" y="647.2" text-anchor="middle">2.5</text>
<line x1="364.4" y1="618" x2="364.4" y2="623.4" stroke="#000" stroke-width="1.8"/>
<text class="t" x="362.9" y="647.2" text-anchor="middle">3.0</text>
<line x1="461.14" y1="618" x2="461.14" y2="623.4" stroke="#000" stroke-width="1.8"/>
<text class="t" x="459.94" y="647.2" text-anchor="middle">-4</text>
<line x1="513.42" y1="618" x2="513.42" y2="623.4" stroke="#000" stroke-width="1.8"/>
<text class="t" x="512.22" y="647.2" text-anchor="middle">-2</text>
<line x1="565.7" y1="618" x2="565.7" y2="623.4" stroke="#000" stroke-width="1.8"/>
<text class="t" x="564.5" y="647.2" text-anchor="middle">0</text>
<line x1="617.98" y1="618" x2="617.98" y2="623.4" stroke="#000" stroke-width="1.8"/>
<text class="t" x="616.78" y="647.2" text-anchor="middle">2</text>
<line x1="670.26" y1="618" x2="670.26" y2="623.4" stroke="#000" stroke-width="1.8"/>
<text class="t" x="669.06" y="647.2" text-anchor="middle">4</text>
<line x1="722.54" y1="618" x2="722.54" y2="623.4" stroke="#000" stroke-width="1.8"/>
<text class="t" x="721.34" y="647.2" text-anchor="middle">6</text>
<text class="b" x="97.6" y="418.8">b</text>
<text class="b" x="443.2" y="417.8">c</text>
<text class="b" transform="translate(20,549.5) rotate(-90)">FCL<tspan font-size="13" dy="6.6" dx="-0.5">Trp-Ser</tspan></text>
<text class="b" x="153" y="680.2">Zooplankton biovol.</text>
<text class="b" x="153" y="704.8">(log cm<tspan font-size="13" dy="-6">3</tspan><tspan dy="6"> 1000m</tspan><tspan font-size="13" dy="-6">-3</tspan><tspan dy="6">)</tspan></text>
<text class="b" x="591.3" y="675.6" text-anchor="middle">Residual Ala δ<tspan font-size="13" dy="-6">15</tspan><tspan dy="6">N</tspan></text>
</svg></body></html>
